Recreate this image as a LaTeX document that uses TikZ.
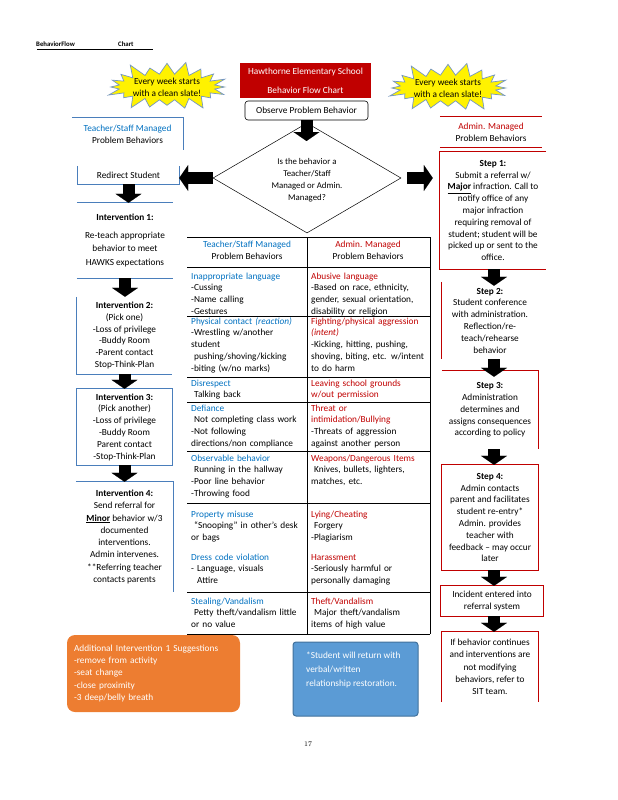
\documentclass[tikz,border=0pt]{standalone}
\usepackage{fontspec}
\setsansfont{Carlito}
\usetikzlibrary{shapes.geometric,shapes.symbols,arrows.meta}
\definecolor{tblue}{HTML}{0070C0}
\definecolor{tred}{HTML}{C00000}
\definecolor{lblue}{HTML}{4A7EBB}
\definecolor{bred}{HTML}{C00000}
\definecolor{orng}{HTML}{ED7D31}
\definecolor{sky}{HTML}{5B9BD5}
\definecolor{skyd}{HTML}{41719C}
\definecolor{starb}{HTML}{7496C4}
\begin{document}
\begin{tikzpicture}[x=1pt,y=-1pt,
  font=\sffamily\fontsize{9.3}{11.8}\selectfont,
  bx/.style={inner sep=0pt, align=center},
  tcell/.style={inner sep=0pt, anchor=north west, align=left, text width=116pt},
  blk/.style={line width=12pt, -{Triangle[width=26pt,length=9pt,line width=0.1pt]}},
  bline/.style={draw=lblue, line width=0.9pt},
  rline/.style={draw=bred, line width=0.9pt},
  tline/.style={line width=0.8pt},
  burst/.style={shape=starburst, starburst points=20, starburst point height=15pt,
     fill=yellow, draw=starb, line width=0.7pt, inner sep=0pt,
     minimum width=124pt, minimum height=51pt, align=center},
  ttl/.style={font=\sffamily\bfseries\fontsize{6.8}{8}\selectfont, inner sep=0pt, anchor=base west}]
\useasboundingbox (0,0) rectangle (618,800);

% title
\node[ttl] (title1) at (36,47) {BehaviorFlow};
\node[ttl] (title2) at (118,47) {Chart};
\draw[line width=1pt] (37,49.5) -- (153,49.5);

% starbursts
\node[burst] (sb1) at (167,87) {Every week starts\\with a clean slate!};
\node[burst] (sb2) at (448,88) {Every week starts\\with a clean slate!};

% school title
\node[bx, fill=bred, text=white, minimum width=131pt, minimum height=35pt,
      font=\sffamily\fontsize{9.3}{19}\selectfont] (school) at (305.5,80.5)
      {Hawthorne Elementary School\\Behavior Flow Chart};
\node[bx, draw, line width=0.6pt, rounded corners=3pt, minimum width=123pt, minimum height=19pt]
      (obs) at (306.5,110.5) {Observe Problem Behavior};

% diamond
\node[diamond, draw, line width=0.5pt, minimum width=188pt, minimum height=110pt, inner sep=0pt]
      (dia) at (307,178) {};
\node[bx, font=\sffamily\fontsize{8.8}{12}\selectfont] (q) at (307,180)
      {Is the behavior a\\Teacher/Staff\\Managed or Admin.\\Managed?};
\coordinate (obsEnd) at (306.5,141);
\draw[blk] (obs.south) -- (obsEnd);

% left column
\node[bx, minimum width=111pt, minimum height=32pt] (tsHead) at (127.5,134)
      {\textcolor{tblue}{Teacher/Staff Managed}\\Problem Behaviors};
\draw[bline] (tsHead.north west) -- (tsHead.north east) -- (tsHead.south east);

\node[bx, minimum width=101pt, minimum height=18pt] (redirect) at (128.5,175) {Redirect Student};
\draw[bline] (redirect.north west) -- (redirect.south west) -- (redirect.south east) -- (redirect.north east);

\node[bx, minimum width=96pt, minimum height=75pt, font=\sffamily\fontsize{9.3}{13.5}\selectfont]
      (int1) at (125,240.5) {\textbf{Intervention 1:}\\[4pt]Re-teach appropriate\\behavior to meet\\HAWKS expectations};
\draw[bline] (int1.north west) -- (int1.north east);
\draw[bline] (int1.south west) -- (int1.south east);

\node[bx, minimum width=95pt, minimum height=77pt] (int2) at (124.5,335.5)
      {\textbf{Intervention 2:}\\(Pick one)\\-Loss of privilege\\-Buddy Room\\-Parent contact\\Stop-Think-Plan};
\draw[bline] (int2.north west) -- (int2.south west) -- (int2.south east);

\node[bx, minimum width=95pt, minimum height=76pt] (int3) at (124.5,427)
      {\textbf{Intervention 3:}\\(Pick another)\\-Loss of privilege\\-Buddy Room\\Parent contact\\-Stop-Think-Plan};
\draw[bline] (int3.north west) rectangle (int3.south east);

\node[bx, minimum width=97pt, minimum height=110pt, font=\sffamily\fontsize{9.3}{12.3}\selectfont]
      (int4) at (124.5,537)
      {\textbf{Intervention 4:}\\Send referral for\\\underline{\textbf{Minor}} behavior w/3\\documented\\interventions.\\Admin intervenes.\\**Referring teacher\\contacts parents};
\draw[bline] (int4.north west) -- (int4.north east) -- (int4.south east);

\draw[blk] (dia.west) -- (dia.west -| redirect.east);
\draw[blk] (redirect.south) -- (redirect.south |- int1.north);
\draw[blk] (int1.south) -- (int1.south |- int2.north);
\draw[blk] (int2.south) -- (int2.south |- int3.north);
\draw[blk] (int3.south) -- (int3.south |- int4.north);

% right column
\node[bx, minimum width=102pt, minimum height=30pt] (adHead) at (491,132)
      {\textcolor{tred}{Admin. Managed}\\Problem Behaviors};
\draw[rline] (adHead.north west) -- (adHead.north east);
\draw[rline] (adHead.south west) -- (adHead.south east);

\node[bx, minimum width=106pt, minimum height=117pt] (step1) at (493,210.5)
      {\textbf{Step 1:}\\Submit a referral w/\\\underline{\textbf{Major}} infraction. Call to\\notify office of any\\major infraction\\requiring removal of\\student; student will be\\picked up or sent to the\\office.};
\draw[rline] (step1.north east) -- (step1.north west) -- (step1.south west) -- (step1.south east);

\node[bx, minimum width=96pt, minimum height=77pt] (step2) at (490,320.5)
      {\textbf{Step 2:}\\Student conference\\with administration.\\Reflection/re-\\teach/rehearse\\behavior};
\draw[rline] (step2.north west) -- (step2.south west);

\node[bx, minimum width=96pt, minimum height=78pt] (step3) at (490,410)
      {\textbf{Step 3:}\\Administration\\determines and\\assigns consequences\\according to policy};
\draw[rline] (step3.north west) -- (step3.north east) -- (step3.south east);

\node[bx, minimum width=96pt, minimum height=105pt] (step4) at (490,517.5)
      {\textbf{Step 4:}\\Admin contacts\\parent and facilitates\\student re-entry*\\Admin. provides\\teacher with\\feedback -- may occur\\later};
\draw[rline] (step4.north west) rectangle (step4.south east);

\node[bx, minimum width=102pt, minimum height=30pt] (incident) at (492,601)
      {Incident entered into\\referral system};
\draw[rline] (incident.north west) rectangle (incident.south east);

\node[bx, minimum width=96pt, minimum height=70pt, font=\sffamily\fontsize{9.3}{12.3}\selectfont]
      (sit) at (490,667)
      {If behavior continues\\and interventions are\\not modifying\\behaviors, refer to\\SIT team.};
\draw[rline] (sit.south west) -- (sit.north west) -- (sit.north east) -- (sit.south east);

\draw[blk] ([xshift=6pt]dia.east) -- ([xshift=-7pt]dia.east -| step1.west);
\coordinate (rc1) at (494,269);
\coordinate (rc2) at (494,359);
\coordinate (rc3) at (494,449);
\coordinate (rc4) at (494,570);
\coordinate (rc5) at (494,616);
\draw[blk] (rc1) -- (rc1 |- step2.north) -- ++(0,4);
\draw[blk] (rc2) -- (rc2 |- step3.north) -- ++(0,6);
\draw[blk] (rc3) -- (rc3 |- step4.north);
\draw[blk] (rc4) -- (rc4 |- incident.north);
\draw[blk] (rc5) -- (rc5 |- sit.north);

% table
\draw[tline] (187,237) -- (430,237);
\foreach \yy in {267,316,377,402,451,503,592,634}
  \draw[tline] (187,\yy) -- (430,\yy);
\draw[tline] (307,237) -- (307,634);
\draw[tline] (430,237) -- (430,634);

\node[bx] (hL) at (247,250) {\textcolor{tblue}{Teacher/Staff Managed}\\Problem Behaviors};
\node[bx] (hR) at (368,250) {\textcolor{tred}{Admin. Managed}\\Problem Behaviors};

\node[tcell] (l1) at (191,270.7) {\strut\textcolor{tblue}{Inappropriate language}\\-Cussing\\-Name calling\\-Gestures};
\node[tcell] (l2) at (191,315.7) {\strut{\color{tblue}Physical contact \textit{(reaction)}}\\-Wrestling w/another\\student\\\hspace*{3pt}pushing/shoving/kicking\\-biting (w/no marks)};
\node[tcell] (l3) at (191,377.7) {\strut\textcolor{tblue}{Disrespect}\\\hspace*{3pt}Talking back};
\node[tcell] (l4) at (191,402.7) {\strut\textcolor{tblue}{Defiance}\\\hspace*{3pt}Not completing class work\\-Not following\\directions/non compliance};
\node[tcell] (l5) at (191,452.7) {\strut\textcolor{tblue}{Observable behavior}\\\hspace*{3pt}Running in the hallway\\-Poor line behavior\\-Throwing food};
\node[tcell] (l6) at (191,508.7) {\strut\textcolor{tblue}{Property misuse}\\\hspace*{3pt}``Snooping'' in other's desk\\or bags};
\node[tcell] (l6b) at (191,551.7) {\strut\textcolor{tblue}{Dress code violation}\\- Language, visuals\\\hspace*{6pt}Attire};
\node[tcell] (l7) at (191,595.7) {\strut\textcolor{tblue}{Stealing/Vandalism}\\\hspace*{3pt}Petty theft/vandalism little\\or no value};

\node[tcell] (r1) at (311,270.7) {\strut\textcolor{tred}{Abusive language}\\-Based on race, ethnicity,\\gender, sexual orientation,\\disability or religion};
\node[tcell] (r2) at (311,315.7) {\strut{\color{tred}Fighting/physical aggression\\\textit{(intent)}}\\-Kicking, hitting, pushing,\\shoving, biting, etc. w/intent\\to do harm};
\node[tcell] (r3) at (311,377.7) {\strut{\color{tred}Leaving school grounds\\w/out permission}};
\node[tcell] (r4) at (311,402.7) {\strut{\color{tred}Threat or\\intimidation/Bullying}\\-Threats of aggression\\against another person};
\node[tcell] (r5) at (311,452.7) {\strut\textcolor{tred}{Weapons/Dangerous Items}\\\hspace*{3pt}Knives, bullets, lighters,\\matches, etc.};
\node[tcell] (r6) at (311,508.7) {\strut\textcolor{tred}{Lying/Cheating}\\\hspace*{3pt}Forgery\\-Plagiarism};
\node[tcell] (r6b) at (311,551.7) {\strut\textcolor{tred}{Harassment}\\-Seriously harmful or\\personally damaging};
\node[tcell] (r7) at (311,595.7) {\strut\textcolor{tred}{Theft/Vandalism}\\\hspace*{3pt}Major theft/vandalism\\items of high value};

% bottom boxes
\node[fill=orng, rounded corners=8pt, minimum width=173pt, minimum height=77pt, inner ysep=0pt,
      inner xsep=7pt, text width=159pt, align=left, text=white,
      font=\sffamily\fontsize{9.3}{12.3}\selectfont] (sugg) at (153.5,673.5)
      {Additional Intervention 1 Suggestions\\-remove from activity\\-seat change\\-close proximity\\-3 deep/belly breath};
\node[fill=sky, draw=skyd, line width=1pt, rounded corners=3pt, minimum width=125pt, minimum height=74pt]
      (bbox) at (355.5,679) {};
\node[anchor=north west, inner sep=0pt, align=left, text=white,
      font=\sffamily\fontsize{9.3}{14}\selectfont] (btext) at (306,652)
      {*Student will return with\\verbal/written\\relationship restoration.};

\node[font=\rmfamily\fontsize{7}{8}\selectfont, inner sep=0pt] (pg) at (308,744) {17};
\end{tikzpicture}
\end{document}
